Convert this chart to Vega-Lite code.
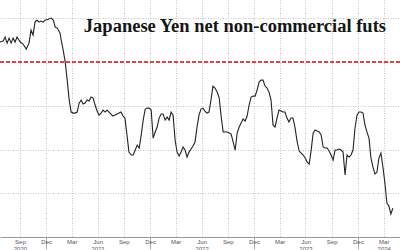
{
  "$schema": "https://vega.github.io/schema/vega-lite/v6.json",
  "width": 400,
  "height": 237,
  "padding": {"top": 0, "left": 0, "right": 0, "bottom": 13},
  "autosize": {"type": "none"},
  "background": "white",
  "title": {
    "text": "Japanese Yen net non-commercial futs",
    "font": "Liberation Serif",
    "fontSize": 18.5,
    "fontWeight": "bold",
    "color": "#151515",
    "anchor": "end",
    "frame": "group",
    "orient": "top",
    "offset": 0,
    "baseline": "alphabetic",
    "dx": -14,
    "dy": 50
  },
  "config": {"view": {"stroke": null}},
  "datasets": {
    "cot": [
      {"date": "2020-07-23", "net": 22.9},
      {"date": "2020-08-03", "net": 24.0},
      {"date": "2020-08-10", "net": 28.6},
      {"date": "2020-08-17", "net": 21.7},
      {"date": "2020-08-24", "net": 27.4},
      {"date": "2020-08-31", "net": 21.7},
      {"date": "2020-09-07", "net": 27.4},
      {"date": "2020-09-14", "net": 22.9},
      {"date": "2020-09-21", "net": 28.6},
      {"date": "2020-10-02", "net": 22.9},
      {"date": "2020-10-12", "net": 20.6},
      {"date": "2020-10-23", "net": 14.9},
      {"date": "2020-11-02", "net": 21.7},
      {"date": "2020-11-09", "net": 36.6},
      {"date": "2020-11-16", "net": 30.9},
      {"date": "2020-11-23", "net": 45.7},
      {"date": "2020-11-30", "net": 48.0},
      {"date": "2020-12-07", "net": 45.7},
      {"date": "2020-12-14", "net": 46.9},
      {"date": "2020-12-21", "net": 45.7},
      {"date": "2020-12-28", "net": 48.0},
      {"date": "2021-01-08", "net": 49.1},
      {"date": "2021-01-19", "net": 50.3},
      {"date": "2021-01-26", "net": 48.0},
      {"date": "2021-02-02", "net": 40.0},
      {"date": "2021-02-09", "net": 38.9},
      {"date": "2021-02-19", "net": 33.1},
      {"date": "2021-02-23", "net": 25.1},
      {"date": "2021-03-02", "net": 13.7},
      {"date": "2021-03-09", "net": 0.0},
      {"date": "2021-03-16", "net": -20.6},
      {"date": "2021-03-23", "net": -43.4},
      {"date": "2021-03-30", "net": -57.1},
      {"date": "2021-04-06", "net": -58.3},
      {"date": "2021-04-13", "net": -58.3},
      {"date": "2021-04-20", "net": -57.1},
      {"date": "2021-04-27", "net": -46.9},
      {"date": "2021-05-04", "net": -43.4},
      {"date": "2021-05-11", "net": -48.0},
      {"date": "2021-05-18", "net": -46.9},
      {"date": "2021-05-25", "net": -43.4},
      {"date": "2021-06-01", "net": -44.6},
      {"date": "2021-06-08", "net": -40.0},
      {"date": "2021-06-15", "net": -41.1},
      {"date": "2021-06-22", "net": -49.1},
      {"date": "2021-06-29", "net": -56.0},
      {"date": "2021-07-06", "net": -60.6},
      {"date": "2021-07-13", "net": -58.3},
      {"date": "2021-07-20", "net": -54.9},
      {"date": "2021-07-27", "net": -57.1},
      {"date": "2021-08-03", "net": -54.9},
      {"date": "2021-08-10", "net": -57.1},
      {"date": "2021-08-17", "net": -59.4},
      {"date": "2021-08-24", "net": -61.7},
      {"date": "2021-08-31", "net": -60.6},
      {"date": "2021-09-07", "net": -59.4},
      {"date": "2021-09-14", "net": -58.3},
      {"date": "2021-09-21", "net": -57.1},
      {"date": "2021-09-28", "net": -61.7},
      {"date": "2021-10-05", "net": -64.0},
      {"date": "2021-10-12", "net": -83.4},
      {"date": "2021-10-19", "net": -102.9},
      {"date": "2021-10-27", "net": -106.3},
      {"date": "2021-11-03", "net": -106.3},
      {"date": "2021-11-10", "net": -100.6},
      {"date": "2021-11-17", "net": -94.9},
      {"date": "2021-11-24", "net": -98.3},
      {"date": "2021-12-01", "net": -83.4},
      {"date": "2021-12-08", "net": -66.3},
      {"date": "2021-12-15", "net": -53.7},
      {"date": "2021-12-22", "net": -52.6},
      {"date": "2021-12-29", "net": -52.6},
      {"date": "2022-01-05", "net": -54.9},
      {"date": "2022-01-12", "net": -86.9},
      {"date": "2022-01-19", "net": -80.0},
      {"date": "2022-01-26", "net": -74.3},
      {"date": "2022-02-02", "net": -64.0},
      {"date": "2022-02-09", "net": -59.4},
      {"date": "2022-02-16", "net": -59.4},
      {"date": "2022-02-23", "net": -66.3},
      {"date": "2022-03-02", "net": -62.9},
      {"date": "2022-03-09", "net": -66.3},
      {"date": "2022-03-16", "net": -57.1},
      {"date": "2022-03-23", "net": -60.6},
      {"date": "2022-03-30", "net": -89.1},
      {"date": "2022-04-06", "net": -102.9},
      {"date": "2022-04-13", "net": -107.4},
      {"date": "2022-04-20", "net": -102.9},
      {"date": "2022-04-27", "net": -97.1},
      {"date": "2022-05-04", "net": -100.6},
      {"date": "2022-05-11", "net": -108.6},
      {"date": "2022-05-18", "net": -102.9},
      {"date": "2022-05-25", "net": -99.4},
      {"date": "2022-06-01", "net": -96.0},
      {"date": "2022-06-08", "net": -91.4},
      {"date": "2022-06-15", "net": -74.3},
      {"date": "2022-06-22", "net": -60.6},
      {"date": "2022-06-29", "net": -53.7},
      {"date": "2022-07-06", "net": -52.6},
      {"date": "2022-07-13", "net": -56.0},
      {"date": "2022-07-20", "net": -58.3},
      {"date": "2022-07-27", "net": -57.1},
      {"date": "2022-08-03", "net": -43.4},
      {"date": "2022-08-10", "net": -27.4},
      {"date": "2022-08-17", "net": -29.7},
      {"date": "2022-08-25", "net": -34.3},
      {"date": "2022-09-01", "net": -41.1},
      {"date": "2022-09-08", "net": -62.9},
      {"date": "2022-09-15", "net": -80.0},
      {"date": "2022-09-22", "net": -80.0},
      {"date": "2022-09-29", "net": -80.0},
      {"date": "2022-10-06", "net": -81.1},
      {"date": "2022-10-13", "net": -82.3},
      {"date": "2022-10-20", "net": -91.4},
      {"date": "2022-10-27", "net": -100.6},
      {"date": "2022-11-03", "net": -81.1},
      {"date": "2022-11-10", "net": -74.3},
      {"date": "2022-11-17", "net": -69.7},
      {"date": "2022-11-24", "net": -65.1},
      {"date": "2022-12-01", "net": -67.4},
      {"date": "2022-12-08", "net": -61.7},
      {"date": "2022-12-15", "net": -49.1},
      {"date": "2022-12-22", "net": -40.0},
      {"date": "2022-12-29", "net": -38.9},
      {"date": "2023-01-05", "net": -38.9},
      {"date": "2023-01-12", "net": -32.0},
      {"date": "2023-01-19", "net": -22.9},
      {"date": "2023-01-26", "net": -20.6},
      {"date": "2023-02-02", "net": -20.6},
      {"date": "2023-02-09", "net": -27.4},
      {"date": "2023-02-16", "net": -29.7},
      {"date": "2023-02-23", "net": -34.3},
      {"date": "2023-03-02", "net": -43.4},
      {"date": "2023-03-09", "net": -72.0},
      {"date": "2023-03-16", "net": -74.3},
      {"date": "2023-03-23", "net": -64.0},
      {"date": "2023-03-30", "net": -54.9},
      {"date": "2023-04-06", "net": -56.0},
      {"date": "2023-04-13", "net": -57.1},
      {"date": "2023-04-20", "net": -57.1},
      {"date": "2023-04-27", "net": -64.0},
      {"date": "2023-05-04", "net": -68.6},
      {"date": "2023-05-11", "net": -64.0},
      {"date": "2023-05-18", "net": -64.0},
      {"date": "2023-05-25", "net": -74.3},
      {"date": "2023-06-02", "net": -91.4},
      {"date": "2023-06-09", "net": -101.7},
      {"date": "2023-06-16", "net": -104.0},
      {"date": "2023-06-23", "net": -106.3},
      {"date": "2023-06-30", "net": -109.7},
      {"date": "2023-07-07", "net": -114.3},
      {"date": "2023-07-14", "net": -116.6},
      {"date": "2023-07-21", "net": -100.6},
      {"date": "2023-07-28", "net": -81.1},
      {"date": "2023-08-04", "net": -77.7},
      {"date": "2023-08-11", "net": -78.9},
      {"date": "2023-08-18", "net": -80.0},
      {"date": "2023-08-25", "net": -83.4},
      {"date": "2023-09-01", "net": -97.1},
      {"date": "2023-09-08", "net": -98.3},
      {"date": "2023-09-15", "net": -98.3},
      {"date": "2023-09-22", "net": -101.7},
      {"date": "2023-09-29", "net": -106.3},
      {"date": "2023-10-06", "net": -112.0},
      {"date": "2023-10-13", "net": -100.6},
      {"date": "2023-10-20", "net": -100.6},
      {"date": "2023-10-27", "net": -99.4},
      {"date": "2023-11-03", "net": -100.6},
      {"date": "2023-11-10", "net": -102.9},
      {"date": "2023-11-17", "net": -129.1},
      {"date": "2023-11-24", "net": -106.3},
      {"date": "2023-12-01", "net": -108.6},
      {"date": "2023-12-08", "net": -106.3},
      {"date": "2023-12-15", "net": -100.6},
      {"date": "2023-12-22", "net": -75.4},
      {"date": "2023-12-29", "net": -60.6},
      {"date": "2024-01-05", "net": -57.1},
      {"date": "2024-01-12", "net": -57.1},
      {"date": "2024-01-19", "net": -58.3},
      {"date": "2024-01-26", "net": -72.0},
      {"date": "2024-02-02", "net": -80.0},
      {"date": "2024-02-09", "net": -86.9},
      {"date": "2024-02-16", "net": -109.7},
      {"date": "2024-02-23", "net": -120.0},
      {"date": "2024-03-01", "net": -128.0},
      {"date": "2024-03-08", "net": -125.7},
      {"date": "2024-03-15", "net": -109.7},
      {"date": "2024-03-22", "net": -104.0},
      {"date": "2024-03-29", "net": -120.0},
      {"date": "2024-04-05", "net": -138.3},
      {"date": "2024-04-12", "net": -161.1},
      {"date": "2024-04-19", "net": -164.6},
      {"date": "2024-04-26", "net": -173.7},
      {"date": "2024-05-03", "net": -166.9}
    ],
    "ref": [{"level": 0}]
  },
  "layer": [
    {
      "data": {"name": "cot"},
      "mark": {"type": "line", "color": "#222222", "strokeWidth": 1.1},
      "encoding": {
        "x": {
          "field": "date",
          "type": "temporal",
          "scale": {
            "domain": [
              {"year": 2020, "month": 7, "date": 23, "utc": true},
              {"year": 2024, "month": 5, "date": 28, "utc": true}
            ]
          },
          "axis": {
            "title": null,
            "values": [
              {"year": 2020, "month": 10, "date": 1, "utc": true},
              {"year": 2021, "month": 1, "date": 1, "utc": true},
              {"year": 2021, "month": 4, "date": 1, "utc": true},
              {"year": 2021, "month": 7, "date": 1, "utc": true},
              {"year": 2021, "month": 10, "date": 1, "utc": true},
              {"year": 2022, "month": 1, "date": 1, "utc": true},
              {"year": 2022, "month": 4, "date": 1, "utc": true},
              {"year": 2022, "month": 7, "date": 1, "utc": true},
              {"year": 2022, "month": 10, "date": 1, "utc": true},
              {"year": 2023, "month": 1, "date": 1, "utc": true},
              {"year": 2023, "month": 4, "date": 1, "utc": true},
              {"year": 2023, "month": 7, "date": 1, "utc": true},
              {"year": 2023, "month": 10, "date": 1, "utc": true},
              {"year": 2024, "month": 1, "date": 1, "utc": true},
              {"year": 2024, "month": 4, "date": 1, "utc": true}
            ],
            "labelExpr": "utcmonth(datum.value)==0 ? 'Dec' : utcmonth(datum.value)==3 ? (utcyear(datum.value)==2024 ? ['Mar','2024'] : 'Mar') : utcmonth(datum.value)==6 ? ['Jun', '' + utcyear(datum.value)] : (utcyear(datum.value)==2020 ? ['Sep','2020'] : 'Sep')",
            "labelFont": "Liberation Sans",
            "labelFontSize": 6,
            "labelLineHeight": 7,
            "labelColor": "#555555",
            "labelDx": -5,
            "labelPadding": -11,
            "labelBaseline": "top",
            "labelOverlap": false,
            "labelFlush": false,
            "labelBound": false,
            "grid": true,
            "gridColor": "#c4c4c4",
            "gridDash": [1, 1.5],
            "gridWidth": 1,
            "domainColor": "#999999",
            "domainWidth": 1,
            "tickSize": 12,
            "tickColor": "#aaaaaa",
            "tickOpacity": {"condition": {"test": "utcmonth(datum.value)==0", "value": 1}, "value": 0}
          }
        },
        "y": {
          "field": "net",
          "type": "quantitative",
          "scale": {"domain": [-200, 71], "nice": false, "zero": false},
          "axis": {
            "title": null,
            "values": [-150, -100, -50, 0, 50],
            "labels": false,
            "ticks": false,
            "domain": false,
            "grid": true,
            "gridColor": "#c4c4c4",
            "gridDash": [1, 1.5]
          }
        }
      }
    },
    {
      "data": {"name": "ref"},
      "mark": {"type": "rule", "color": "#d9464b", "strokeWidth": 2, "strokeDash": [4, 2]},
      "encoding": {"y": {"field": "level", "type": "quantitative"}}
    }
  ]
}
